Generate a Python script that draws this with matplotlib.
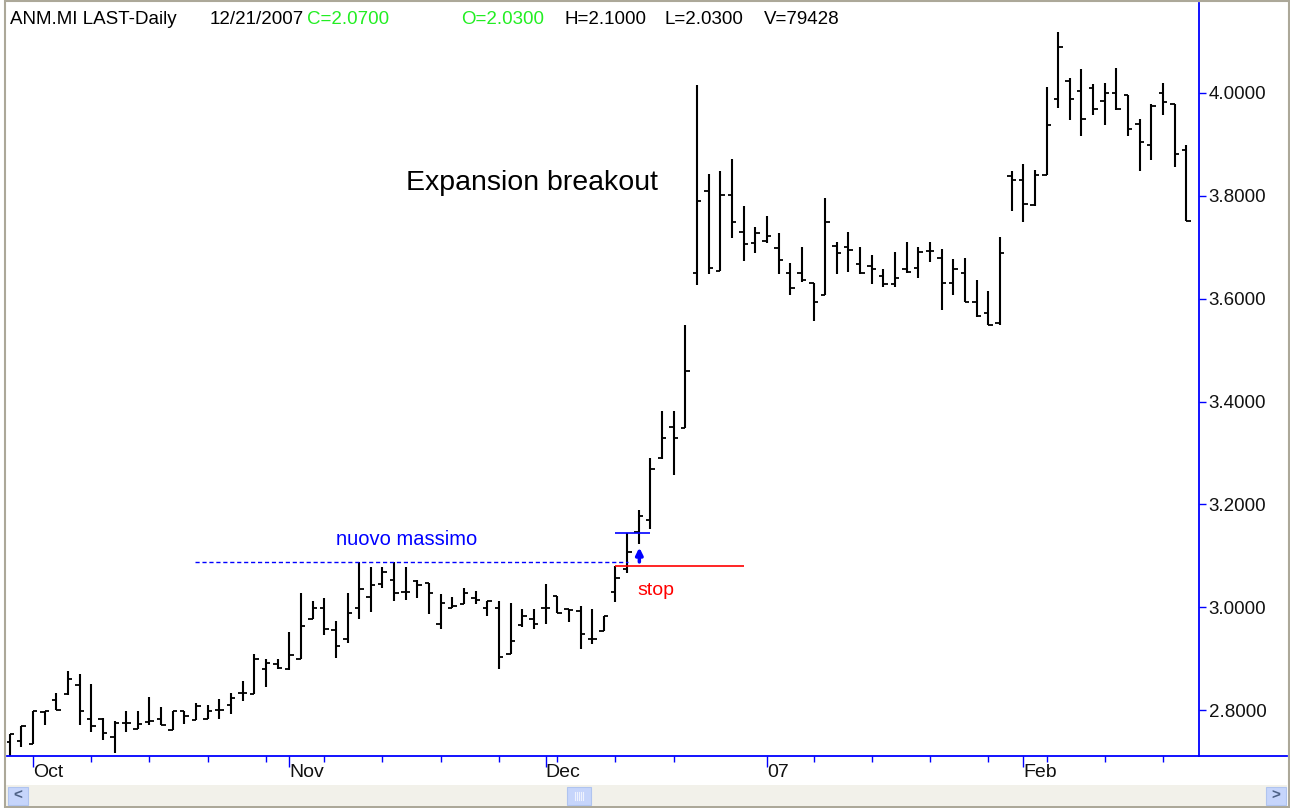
import numpy as np
import matplotlib.pyplot as plt
from matplotlib.patches import Rectangle

plt.rcParams['font.family'] = ['Liberation Sans', 'DejaVu Sans']

# daily bars, index 0 = first bar on the left
opens = [2.737, 2.739, 2.733, 2.797, 2.820, 2.831, 2.849, 2.783, 2.782, 2.748,
         2.774, 2.763, 2.777, 2.782, 2.762, 2.799, 2.781, 2.783, 2.801, 2.810,
         2.834, 2.831, 2.880, 2.890, 2.880, 2.899, 2.977, 2.998, 2.956, 2.938,
         2.998, 3.020, 3.046, 3.053, 3.030, 3.051, 3.048, 2.967, 2.999, 3.007,
         3.017, 2.998, 2.998, 2.909, 2.965, 2.977, 2.998, 3.022, 2.997, 2.993,
         2.938, 2.954, 3.030, 3.075, 3.146, 3.169, 3.290, 3.350, 3.349, 3.649,
         3.810, 3.653, 3.801, 3.730, 3.709, 3.712, 3.699, 3.649, 3.649, 3.630,
         3.608, 3.702, 3.700, 3.667, 3.664, 3.644, 3.629, 3.657, 3.659, 3.693,
         3.680, 3.630, 3.649, 3.594, 3.573, 3.553, 3.839, 3.830, 3.782, 3.841,
         3.988, 4.024, 4.004, 4.009, 3.984, 3.999, 3.996, 3.939, 3.898, 3.999,
         3.979, 3.889]
highs = [2.753, 2.769, 2.798, 2.799, 2.834, 2.875, 2.870, 2.850, 2.784, 2.779,
         2.799, 2.799, 2.825, 2.806, 2.799, 2.799, 2.814, 2.809, 2.822, 2.834,
         2.857, 2.908, 2.899, 2.899, 2.952, 3.028, 3.012, 3.017, 2.973, 3.028,
         3.087, 3.078, 3.078, 3.087, 3.078, 3.053, 3.048, 3.026, 3.019, 3.037,
         3.032, 3.012, 3.012, 3.009, 2.997, 2.997, 3.045, 3.022, 2.997, 3.002,
         2.997, 2.982, 3.080, 3.145, 3.189, 3.290, 3.382, 3.382, 3.549, 4.015,
         3.842, 3.849, 3.871, 3.781, 3.740, 3.760, 3.727, 3.670, 3.700, 3.631,
         3.795, 3.710, 3.730, 3.700, 3.685, 3.657, 3.690, 3.710, 3.700, 3.710,
         3.697, 3.677, 3.680, 3.636, 3.614, 3.719, 3.848, 3.861, 3.850, 4.012,
         4.118, 4.030, 4.047, 4.017, 4.020, 4.049, 3.996, 3.949, 3.978, 4.020,
         3.979, 3.899]
lows = [2.711, 2.728, 2.733, 2.770, 2.800, 2.829, 2.770, 2.757, 2.742, 2.717,
        2.757, 2.763, 2.770, 2.770, 2.762, 2.773, 2.781, 2.783, 2.783, 2.792,
        2.818, 2.831, 2.845, 2.880, 2.878, 2.899, 2.977, 2.946, 2.901, 2.931,
        2.978, 2.991, 3.038, 3.012, 3.014, 3.017, 2.987, 2.957, 2.999, 3.007,
        3.007, 2.982, 2.879, 2.909, 2.961, 2.957, 2.967, 2.988, 2.972, 2.919,
        2.928, 2.954, 3.010, 3.067, 3.122, 3.153, 3.288, 3.258, 3.349, 3.626,
        3.648, 3.653, 3.718, 3.673, 3.689, 3.709, 3.648, 3.607, 3.633, 3.557,
        3.608, 3.648, 3.651, 3.648, 3.628, 3.622, 3.622, 3.649, 3.641, 3.671,
        3.578, 3.607, 3.593, 3.564, 3.548, 3.548, 3.771, 3.749, 3.780, 3.841,
        3.970, 3.948, 3.917, 3.957, 3.938, 3.967, 3.917, 3.849, 3.870, 3.957,
        3.857, 3.751]
closes = [2.753, 2.769, 2.798, 2.798, 2.800, 2.860, 2.799, 2.768, 2.756, 2.774,
          2.774, 2.773, 2.779, 2.771, 2.799, 2.789, 2.807, 2.798, 2.801, 2.823,
          2.834, 2.899, 2.892, 2.881, 2.907, 2.964, 2.998, 2.957, 2.925, 2.989,
          3.035, 3.043, 3.068, 3.028, 3.030, 3.044, 3.027, 3.009, 3.002, 3.028,
          3.014, 3.012, 2.904, 2.935, 2.982, 2.967, 2.998, 2.989, 2.995, 2.947,
          2.938, 2.982, 3.057, 3.107, 3.177, 3.269, 3.329, 3.329, 3.460, 3.790,
          3.660, 3.801, 3.749, 3.706, 3.728, 3.722, 3.675, 3.621, 3.636, 3.594,
          3.750, 3.689, 3.695, 3.649, 3.657, 3.629, 3.640, 3.651, 3.690, 3.693,
          3.630, 3.657, 3.594, 3.566, 3.549, 3.689, 3.830, 3.784, 3.841, 3.938,
          4.090, 3.988, 3.949, 3.968, 3.999, 3.968, 3.929, 3.905, 3.975, 3.982,
          3.881, 3.751]

month_pos = [2, 24, 46, 65, 87]
month_labels = ['Oct', 'Nov', 'Dec', '07', 'Feb']
week_pos = [7, 12, 17, 22, 27, 32, 37, 42, 47, 52, 57, 69, 74, 79, 84, 89, 94, 99]
price_ticks = [2.8, 3.0, 3.2, 3.4, 3.6, 3.8, 4.0]

# annotation levels
new_high = 3.088
entry_level = 3.145
stop_level = 3.080

x = np.arange(len(opens))
W, H = 1290, 808
fig = plt.figure(figsize=(W / 100, H / 100), dpi=100)
ax = fig.add_axes([7 / W, (H - 756) / H, (1199 - 7) / W, (756 - 3) / H])

ax.vlines(x, lows, highs, color='black', lw=1.5)
ax.hlines(opens, x - 0.38, x, color='black', lw=1.3)
ax.hlines(closes, x, x + 0.38, color='black', lw=1.3)

ax.set_xlim(-0.23, 102.09)
ax.set_ylim(2.7106, 4.175)

blue = '#0000ff'
for s in ['top', 'left']:
    ax.spines[s].set_visible(False)
for s in ['right', 'bottom']:
    ax.spines[s].set_color(blue)
    ax.spines[s].set_linewidth(1.3)

ax.yaxis.tick_right()
ax.set_yticks(price_ticks, ['%.4f' % v for v in price_ticks])
ax.tick_params(axis='y', colors=blue, labelcolor='#111111', length=5, width=1,
               labelsize=13.5, pad=2)

ax.set_xticks(month_pos, month_labels)
ax.set_xticks(week_pos, minor=True)
ax.tick_params(axis='x', which='major', colors=blue, labelcolor='#111111',
               length=8, width=1, labelsize=14, pad=-2)
ax.tick_params(axis='x', which='minor', colors=blue, length=4, width=1)
for lab in ax.get_xticklabels():
    lab.set_horizontalalignment('left')

# annotations
ax.hlines(new_high, 15.9, 53.1, color=blue, lw=1, linestyles=(0, (3, 2)))
ax.text(34.1, 3.131, 'nuovo massimo', color=blue, fontsize=14.5,
        ha='center', va='center')
ax.hlines(entry_level, 52.0, 55.0, color=blue, lw=1.2)
ax.annotate('', xy=(54.05, 3.116), xytext=(54.05, 3.088),
            arrowprops=dict(arrowstyle='-|>', color=blue, lw=2.5,
                            mutation_scale=10, shrinkA=0, shrinkB=0))
ax.hlines(stop_level, 52.0, 63.0, color='red', lw=1.2)
ax.text(53.9, 3.033, 'stop', color='red', fontsize=14, ha='left', va='center')
ax.text(34.0, 3.825, 'Expansion breakout', color='black', fontsize=20.5,
        ha='left', va='center')

# window chrome drawn in pixel coordinates
ov = fig.add_axes([0, 0, 1, 1])
ov.set_xlim(0, W)
ov.set_ylim(H, 0)
ov.axis('off')
ov.add_patch(Rectangle((5, 1), W - 6, H - 2, fill=False, ec='#aca899', lw=1.5))
ov.plot([1199, 1287], [756, 756], color=blue, lw=1.3)
ov.add_patch(Rectangle((6, 785), 1281, 21, fc='#f2f1ea', ec='none'))
for bx in (8, 1266):
    ov.add_patch(Rectangle((bx, 787), 20, 18, fc='#c6d5fb', ec='#b0c4ef', lw=0.8))
ov.text(18, 796, '<', color='#4d6185', fontsize=11, ha='center', va='center',
        fontweight='bold')
ov.text(1276, 796, '>', color='#4d6185', fontsize=11, ha='center', va='center',
        fontweight='bold')
ov.add_patch(Rectangle((567, 787), 24, 18, fc='#c6d5fb', ec='#b0c4ef', lw=0.8))
for gx in (575, 577, 579, 581, 583):
    ov.plot([gx, gx], [792, 800], color='#eef2fd', lw=0.8)

# header line
header = [(10, 'ANM.MI LAST-Daily', '#000000'),
          (210, '12/21/2007', '#000000'),
          (307, 'C=2.0700', '#22ee22'),
          (461, 'O=2.0300', '#22ee22'),
          (564, 'H=2.1000', '#000000'),
          (664, 'L=2.0300', '#000000'),
          (764, 'V=79428', '#000000')]
for hx, txt, col in header:
    ov.text(hx, 19, txt, color=col, fontsize=13.5, ha='left', va='center')

fig.savefig('out.png', dpi=100, facecolor='white')
